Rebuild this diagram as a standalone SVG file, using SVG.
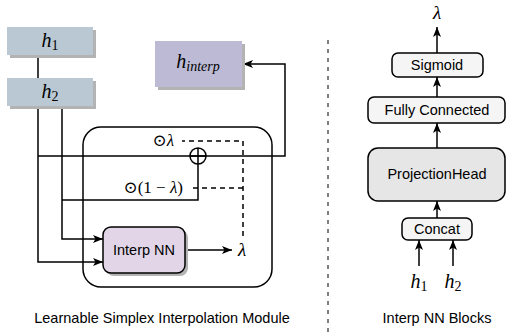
<svg xmlns="http://www.w3.org/2000/svg" width="506" height="332" viewBox="0 0 506 332">
<style>
.lbl{font-family:"Liberation Sans",Arial,sans-serif;font-size:14.5px;fill:#000;text-anchor:middle}
.math{font-family:"Liberation Serif","DejaVu Serif",serif;font-style:italic;fill:#000}
.up{font-style:normal}
.ln{fill:none;stroke:#000;stroke-width:1.5}
.dash{fill:none;stroke:#000;stroke-width:1.5;stroke-dasharray:5 4}
.shadow{fill:#b3b3b3}
.box{stroke:#000;stroke-width:1.5}
</style>
<defs>
<marker id="arr" viewBox="0 0 10 8" refX="10" refY="4" markerWidth="10" markerHeight="8" markerUnits="userSpaceOnUse" orient="auto">
<path d="M0,0 L10,4 L0,8 L2.5,4 z" fill="#000"/>
</marker>
</defs>
<rect width="506" height="332" fill="#fff"/>

<g id="module-frame">
<rect x="83" y="127" width="189" height="160" rx="18" fill="none" class="box"/>
</g>

<g id="connectors">
<path class="ln" d="M38,55 V262 H103" marker-end="url(#arr)"/>
<path class="ln" d="M38,156 H285 V64 H243" marker-end="url(#arr)"/>
<path class="ln" d="M62,106 V239 H103" marker-end="url(#arr)"/>
<path class="ln" d="M62,200 H198 V164"/>
<path class="ln" d="M185,250 H232" marker-end="url(#arr)"/>
<path class="dash" d="M243,236 V141 H182"/>
<path class="dash" d="M243,188 H192"/>
<path class="ln" d="M437,53 V27" marker-end="url(#arr)"/>
<path class="ln" d="M437,97 V77" marker-end="url(#arr)"/>
<path class="ln" d="M437,148 V123" marker-end="url(#arr)"/>
<path class="ln" d="M437,218 V201" marker-end="url(#arr)"/>
<path class="ln" d="M419,266 V240" marker-end="url(#arr)"/>
<path class="ln" d="M453,266 V240" marker-end="url(#arr)"/>
<line x1="328" y1="40" x2="328" y2="332" stroke="#000" stroke-width="1" stroke-dasharray="4 5"/>
</g>

<g id="sum">
<circle cx="198" cy="156" r="8" fill="none" class="box"/>
<path class="ln" d="M190,156 H206 M198,148 V164"/>
</g>

<g id="h1">
<rect x="10" y="30" width="86" height="28" class="shadow"/>
<rect x="7" y="27" width="86" height="28" fill="#bac8d3"/>
<text class="math" x="50" y="47" font-size="20" text-anchor="middle">h<tspan class="up" font-size="14" dy="3">1</tspan></text>
</g>

<g id="h2">
<rect x="10" y="81" width="86" height="28" class="shadow"/>
<rect x="7" y="78" width="86" height="28" fill="#bac8d3"/>
<text class="math" x="50" y="98" font-size="20" text-anchor="middle">h<tspan class="up" font-size="14" dy="3">2</tspan></text>
</g>

<g id="h-interp">
<rect x="158" y="44" width="87" height="46" class="shadow"/>
<rect x="155" y="41" width="87" height="46" fill="#bcbad4"/>
<text class="math" x="198" y="68" font-size="20" text-anchor="middle">h<tspan font-size="14" dy="3">interp</tspan></text>
</g>

<g id="odot-lambda">
<text class="math" x="174" y="146" font-size="17" text-anchor="end"><tspan class="up">⊙</tspan>λ</text>
</g>
<g id="odot-one-minus-lambda">
<text class="math" x="183" y="193" font-size="17" text-anchor="end"><tspan class="up">⊙(1 − </tspan>λ<tspan class="up">)</tspan></text>
</g>

<g id="interp-nn">
<rect x="106" y="230" width="82" height="46" rx="8" class="shadow"/>
<rect x="103" y="227" width="82" height="46" rx="8" fill="#e1d5e7" class="box"/>
<text class="lbl" x="144" y="255">Interp NN</text>
</g>

<g id="lambda-out">
<text class="math" x="242" y="256" font-size="19" text-anchor="middle">λ</text>
</g>

<g id="lambda-top">
<text class="math" x="437" y="19" font-size="19" text-anchor="middle">λ</text>
</g>

<g id="sigmoid">
<rect x="392" y="53" width="91" height="24" rx="6" fill="#f5f5f5" class="box"/>
<text class="lbl" x="437" y="70">Sigmoid</text>
</g>

<g id="fully-connected">
<rect x="368" y="97" width="137" height="26" rx="6" fill="#f5f5f5" class="box"/>
<text class="lbl" x="437" y="115">Fully Connected</text>
</g>

<g id="projection-head">
<rect x="368" y="148" width="137" height="53" rx="10" fill="#e6e6e6" class="box"/>
<text class="lbl" x="437" y="179">ProjectionHead</text>
</g>

<g id="concat">
<rect x="402" y="218" width="70" height="22" rx="6" fill="#f5f5f5" class="box"/>
<text class="lbl" x="437" y="234">Concat</text>
</g>

<g id="in-h1">
<text class="math" x="419" y="288" font-size="20" text-anchor="middle">h<tspan class="up" font-size="14" dy="3">1</tspan></text>
</g>
<g id="in-h2">
<text class="math" x="453" y="288" font-size="20" text-anchor="middle">h<tspan class="up" font-size="14" dy="3">2</tspan></text>
</g>

<g id="captions">
<text class="lbl" x="162" y="323">Learnable Simplex Interpolation Module</text>
<text class="lbl" x="437" y="323">Interp NN Blocks</text>
</g>
</svg>
